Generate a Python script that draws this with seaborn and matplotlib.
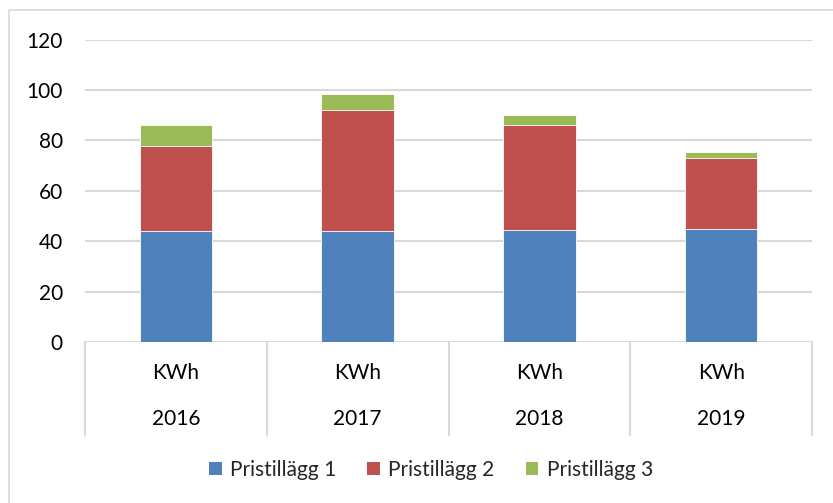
import numpy as np
import pandas as pd
import matplotlib
matplotlib.use("Agg")
import matplotlib.pyplot as plt
from matplotlib.patches import Patch, Rectangle
import seaborn as sns

# ---- data ----
years = ["2016", "2017", "2018", "2019"]
unit_label = "KWh"
series_names = ["Pristillägg 1", "Pristillägg 2", "Pristillägg 3"]
pristillagg1 = [44.2, 44.2, 44.6, 45.0]
pristillagg2 = [33.6, 48.0, 41.5, 28.0]
pristillagg3 = [8.1, 6.1, 3.9, 2.2]
y_ticks = [0, 20, 40, 60, 80, 100, 120]

colors = ["#4F81BD", "#C0504D", "#9BBB59"]
grid_c = "#D9D9D9"

sns.set_theme(style="white")
plt.rcParams["font.family"] = ["Lato", "DejaVu Sans"]

df = pd.DataFrame({
    "year": years,
    "p1": pristillagg1,
    "p2": pristillagg2,
    "p3": pristillagg3,
})
df["c1"] = df["p1"]
df["c2"] = df["p1"] + df["p2"]
df["c3"] = df["p1"] + df["p2"] + df["p3"]

W, H = 833, 503
fig = plt.figure(figsize=(W / 100, H / 100), dpi=100)
left, right, top, bottom = 85, 812, 39.5, 342
ax = fig.add_axes([left / W, 1 - bottom / H, (right - left) / W, (bottom - top) / H])

# layered cumulative bars (stacked look)
for col, c in zip(["c3", "c2", "c1"], colors[::-1]):
    sns.barplot(data=df, x="year", y=col, order=years, color=c, width=0.4,
                saturation=1, edgecolor="white", linewidth=0.6, ax=ax, zorder=3)

fs = 15
ax.set_ylim(0, 120)
ax.set_xlim(-0.5, len(years) - 0.5)
ax.set_yticks(y_ticks)
ax.set_yticklabels([str(t) for t in y_ticks], fontsize=fs, color="#000000")
ax.tick_params(axis="y", length=0, pad=16)
ax.set_xticks([])
ax.set_xlabel("")
ax.set_ylabel("")
for s in ax.spines.values():
    s.set_visible(False)
ax.yaxis.grid(True, color=grid_c, linewidth=1.5, zorder=0)
ax.set_axisbelow(True)

# category separators and two-level labels
ah = bottom - top
xt = ax.get_xaxis_transform()
for b in np.arange(-0.5, len(years), 1.0):
    ax.plot([b, b], [0, -(435 - bottom) / ah], color=grid_c, lw=1.5,
            transform=xt, clip_on=False)
for i, yr in enumerate(years):
    ax.text(i, -(373 - bottom) / ah, unit_label, transform=xt, ha="center",
            va="center", fontsize=fs, color="#000000")
    ax.text(i, -(419 - bottom) / ah, yr, transform=xt, ha="center",
            va="center", fontsize=fs, color="#000000")

handles = [Patch(facecolor=c, edgecolor="none") for c in colors]
fig.legend(handles, series_names, loc="center", bbox_to_anchor=(431 / W, 1 - 470 / H),
           ncol=3, frameon=False, fontsize=fs, handlelength=0.6, handleheight=0.6,
           handletextpad=0.4, columnspacing=1.5)

# chart border (cropped at right/bottom)
fig.add_artist(Rectangle((9 / W, -0.1), 1.2, 1.1 - 10.5 / H, transform=fig.transFigure,
                         fill=False, edgecolor=grid_c, linewidth=1.2))

fig.savefig("out.png", dpi=100, facecolor="white")
